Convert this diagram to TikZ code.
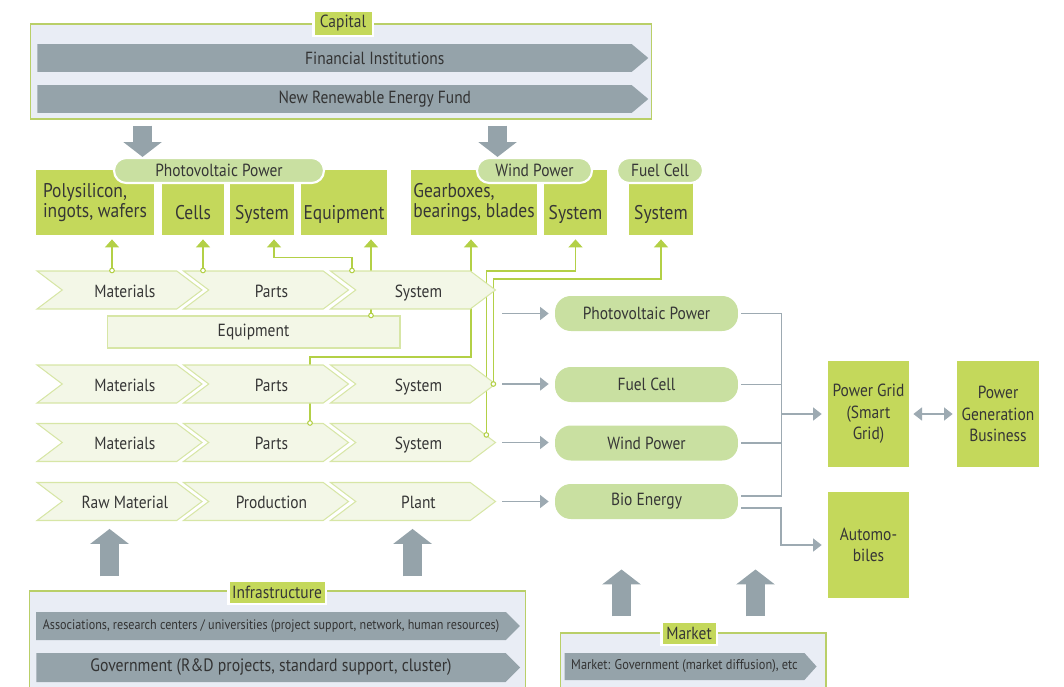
\documentclass[tikz,border=0pt]{standalone}
\usepackage{fontspec}
\setmainfont{PT Sans}[FakeStretch=0.88]
\usepackage{xcolor}
\definecolor{boxgreen}{HTML}{C4D85B}
\definecolor{hdrgreen}{HTML}{C9E0A1}
\definecolor{chevfill}{HTML}{F3F7E7}
\definecolor{chevline}{HTML}{D7E6A6}
\definecolor{wiregreen}{HTML}{B3D046}
\definecolor{arrgray}{HTML}{95A3AA}
\definecolor{linegray}{HTML}{9DAAB2}
\definecolor{panelbg}{HTML}{E9EDF5}
\definecolor{panelline}{HTML}{B9CF68}
\definecolor{txt}{HTML}{363636}
\usepackage{tikz}
\usetikzlibrary{calc, arrows.meta, shapes.symbols}
\pgfdeclarelayer{background}
\pgfsetlayers{background,main}

\begin{document}
\begin{tikzpicture}[x=0.02cm, y=-0.02cm,
    every node/.style={text=txt, font=\fontsize{10}{12}\selectfont},
    panel/.style={draw=panelline, fill=panelbg, line width=0.6pt},
    tag/.style={fill=boxgreen, draw=white, line width=1.7pt, inner sep=0pt},
    band/.style={signal, signal to=east, signal pointer angle=80, fill=arrgray, draw=none, inner sep=0pt, text=black!80},
    product/.style={fill=boxgreen, minimum height=1.3cm, inner sep=0pt, font=\fontsize{11.3}{11.5}\selectfont},
    low/.style={text height=21pt, text depth=1.3pt},
    sector/.style={fill=hdrgreen, draw=white, line width=1.2pt, rounded corners=7pt, minimum height=0.5cm, inner sep=0pt},
    chev/.style={signal, signal to=east, signal from=west, signal pointer angle=74, fill=chevfill, draw=chevline, line width=0.6pt, minimum width=3.3cm, minimum height=0.76cm, inner sep=0pt, text height=9.3pt, text depth=1.3pt},
    field/.style={fill=hdrgreen, rounded corners=9pt, minimum width=3.66cm, minimum height=0.7cm, inner sep=0pt},
    target/.style={fill=boxgreen, minimum height=2.12cm, align=center, inner sep=0pt, font=\fontsize{10}{12.3}\selectfont},
    wire/.style={draw=wiregreen, line width=0.7pt, -{Triangle[width=7.9pt,length=4.5pt]}, shorten >=2.3pt},
    feed/.style={draw=linegray, line width=0.85pt, -{Triangle[width=7.4pt,length=4.9pt]}, shorten <=3.4pt, shorten >=3.4pt},
    busline/.style={draw=linegray, line width=0.85pt, shorten <=1.7pt},
    block/.style={draw=arrgray, line width=11pt, -{Triangle[width=21.5pt,length=8.5pt]}}]
  \useasboundingbox (0,0) rectangle (1064,686);
  \clip (0,0) rectangle (1064,686);

  \node[panel, minimum width=12.44cm, minimum height=1.9cm] (capbox) at (341,71.5) {};
  \node[band, minimum width=12.22cm, minimum height=0.56cm] (fin) at (334.5,58) {\hspace*{45.9pt}Financial Institutions};
  \node[band, minimum width=12.22cm, minimum height=0.56cm] (fund) at (334.5,99) {\hspace*{45.9pt}New Renewable Energy Fund};
  \node[tag, minimum width=1.2cm, minimum height=0.5cm] (caplbl) at (343,23.5) {Capital};

  \node[product, minimum width=2.36cm, align=left] (poly) at (95,202.5) {Polysilicon,\\ingots, wafers};
  \node[product, low, minimum width=1.24cm] (cells) at (193,202.5) {Cells};
  \node[product, low, minimum width=1.28cm] (pvsys) at (262,202.5) {System};
  \node[product, low, minimum width=1.72cm] (equip) at (344,202.5) {Equipment};
  \node[product, minimum width=2.52cm, align=left] (gear) at (474,202.5) {Gearboxes,\\bearings, blades};
  \node[product, low, minimum width=1.26cm] (wsys) at (575.5,202.5) {System};
  \node[product, low, minimum width=1.28cm] (fsys) at (661,202.5) {System};

  \node[sector, minimum width=4.2cm] (pvhdr) at (219,170.5) {Photovoltaic Power};
  \node[sector, minimum width=2.3cm] (whdr) at (534.5,170.5) {Wind Power};
  \node[sector, minimum width=1.72cm] (fhdr) at (660,170.5) {Fuel Cell};

  \draw[block] ($(capbox.south west)+(113,6)$) coordinate (d1) -- (d1 |- pvhdr.north);
  \draw[block] ($(capbox.south west)+(468,6)$) coordinate (d2) -- (d2 |- whdr.north);

  \node[chev] (m1) at (119.5,290) {\hspace*{6.2pt}Materials};
  \node[chev] (p1) at (266,290) {\hspace*{6.2pt}Parts};
  \node[chev] (s1) at (413,290) {\hspace*{6.2pt}System};
  \node[fill=chevfill, draw=chevline, line width=0.6pt, minimum width=5.86cm, minimum height=0.64cm] (eqr) at (253.5,332) {Equipment};
  \node[chev] (m2) at (119.5,384) {\hspace*{6.2pt}Materials};
  \node[chev] (p2) at (266,384) {\hspace*{6.2pt}Parts};
  \node[chev] (s2) at (413,384) {\hspace*{6.2pt}System};
  \node[chev] (m3) at (119.5,442.5) {\hspace*{6.2pt}Materials};
  \node[chev] (p3) at (266,442.5) {\hspace*{6.2pt}Parts};
  \node[chev] (s3) at (413,442.5) {\hspace*{6.2pt}System};
  \node[chev] (raw) at (119.5,501.5) {\hspace*{6.2pt}Raw Material};
  \node[chev] (prod) at (266,501.5) {\hspace*{6.2pt}Production};
  \node[chev] (plant) at (413,501.5) {\hspace*{6.2pt}Plant};

  \coordinate (c1) at ($(m1.north)+(-7.5,0)$);
  \coordinate (c2) at ($(p1.north)+(-63,0)$);
  \coordinate (c3) at ($(s1.north)+(-61,0)$);
  \coordinate (c4) at ($(eqr.north)+(117.5,0)$);
  \coordinate (c5) at ($(p3.north)+(44,0)$);
  \coordinate (c6) at ($(s2.east)+(-3,0)$);
  \coordinate (c7) at ($(s3.east)+(-10,-7.6)$);
  \begin{pgfonlayer}{background}
    \draw[wire] (c1) -- (c1 |- poly.south);
    \draw[wire] (c2) -- (c2 |- cells.south);
    \draw[wire] (c3) -- ++(0,-13) -| ($(pvsys.south)+(12,0)$);
    \draw[wire] (c4) -- (c4 |- equip.south);
    \draw[wire] (c5) -- ++(0,-66) -| ($(gear.south)+(-3,0)$);
    \draw[wire] (c6) -- ++(0,-105) -| (fsys.south);
    \draw[wire] (c7) -- ++(0,-164) -| (wsys.south);
  \end{pgfonlayer}
  \foreach \c in {c1,c2,c3,c4,c5,c6,c7}
    \draw[wiregreen, fill=white, line width=0.6pt] (\c) circle (2.3);

  \node[field] (rpv) at (646.5,313.5) {Photovoltaic Power};
  \node[field] (rfc) at (646.5,384.5) {Fuel Cell};
  \node[field] (rwp) at (646.5,443) {Wind Power};
  \node[field] (rbe) at (646.5,501.5) {Bio Energy};

  \node[target, minimum width=1.62cm] (grid) at (868.5,414) {Power Grid\\(Smart\\Grid)};
  \node[target, minimum width=1.64cm] (pgb) at (998,414) {Power\\Generation\\Business};
  \node[target, minimum width=1.62cm] (auto) at (868.5,545) {Automo-\\biles};

  \draw[feed] (s1.east |- rpv.west) -- (rpv.west);
  \draw[feed] (s2.east) -- (s2.east -| rfc.west);
  \draw[feed] (s3.east) -- (s3.east -| rwp.west);
  \draw[feed] (plant.east) -- (plant.east -| rbe.west);

  \coordinate (bus) at (781,0);
  \draw[busline, shorten >=1.7pt] (rpv.east) -| ($(rbe.east)+(43,-5.5)$) -- ($(rbe.east)+(0,-5.5)$);
  \draw[busline] (rfc.east) -- (rfc.east -| bus);
  \draw[busline] (rwp.east) -- (rwp.east -| bus);
  \draw[feed, shorten <=0pt] (grid.west -| bus) -- (grid.west);
  \draw[feed, shorten <=1.7pt] ($(rbe.east)+(0,6.5)$) -| (auto.west -| bus) -- (auto.west);
  \draw[feed, {Triangle[width=7.4pt,length=4.9pt]}-{Triangle[width=7.4pt,length=4.9pt]}, shorten <=2.3pt, shorten >=2.3pt] (grid.east) -- (pgb.west);

  \node[panel, minimum width=9.94cm, minimum height=2.18cm] (infra) at (277.5,645.5) {};
  \node[band, signal pointer angle=90, minimum width=9.68cm, minimum height=0.56cm, font=\fontsize{7.85}{9}\selectfont] (assoc) at (271,626) {Associations, research centers / universities (project support, network, human resources)};
  \node[band, signal pointer angle=90, minimum width=9.68cm, minimum height=0.58cm, font=\fontsize{10.2}{12}\selectfont] (govt) at (271,667.5) {Government (R\&D projects, standard support, cluster)};
  \node[tag, minimum width=1.96cm, minimum height=0.48cm] (inflbl) at (277,592) {Infrastructure};

  \node[panel, minimum width=5.32cm, minimum height=1.34cm] (mkt) at (693,666.5) {};
  \node[band, signal pointer angle=96, minimum width=5.04cm, minimum height=0.54cm, font=\fontsize{8}{9}\selectfont] (mktarr) at (684.5,666.5) {Market: Government (market diffusion), etc};
  \node[tag, minimum width=1.12cm, minimum height=0.48cm] (mktlbl) at (689,633) {Market};

  \draw[block, shorten >=4.5pt] ($(infra.north west)+(81,-14)$) coordinate (u1) -- (u1 |- raw.south);
  \draw[block, shorten >=4.5pt] ($(infra.north west)+(384,-14)$) coordinate (u2) -- (u2 |- plant.south);
  \coordinate (u3) at ($(mkt.north west)+(62,-16)$);
  \coordinate (v3) at ($(u3)+(0,-47)$);
  \coordinate (u4) at ($(mkt.north west)+(196,-16)$);
  \coordinate (v4) at ($(u4)+(0,-47)$);
  \draw[block] (u3) -- (v3);
  \draw[block] (u4) -- (v4);
\end{tikzpicture}
\end{document}
